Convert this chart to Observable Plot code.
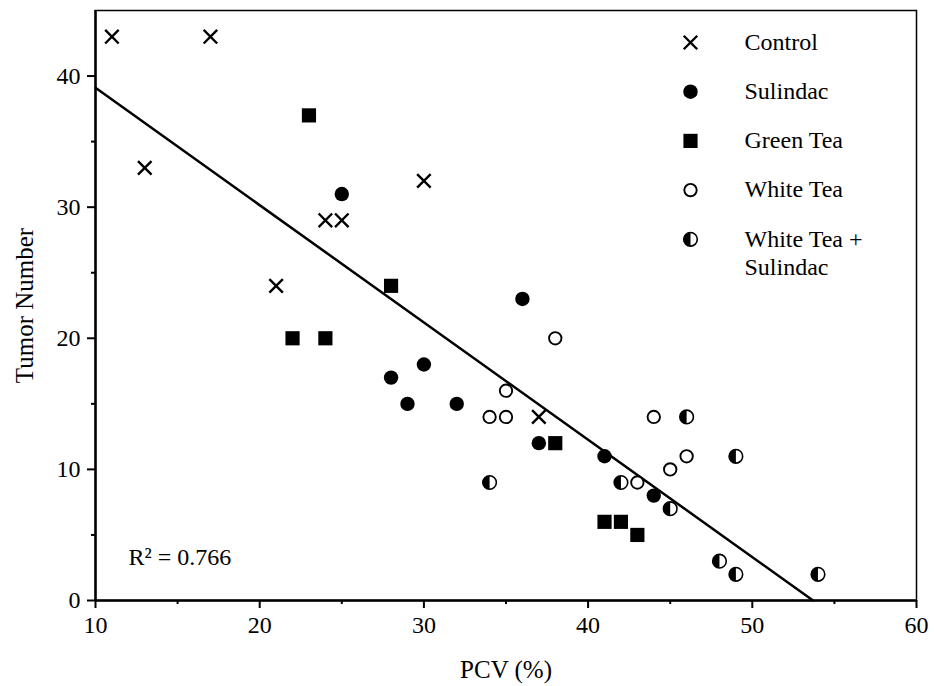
<!DOCTYPE html>
<html><head><meta charset="utf-8">
<script src="https://cdn.jsdelivr.net/npm/d3@7"></script>
<script src="https://cdn.jsdelivr.net/npm/@observablehq/plot@0.6"></script>
<style>html,body{margin:0;padding:0;background:#fff;} svg text{font-family:'Liberation Serif','Times New Roman',serif;}</style>
</head><body><div id="chart"></div>
<script>
// ---- data ----
const controlX  = [11, 17, 13, 24, 25, 30, 21, 37];
const controlY  = [43, 43, 33, 29, 29, 32, 24, 14];
const sulindacX = [25, 36, 28, 30, 29, 32, 37, 41, 44];
const sulindacY = [31, 23, 17, 18, 15, 15, 12, 11, 8];
const greenX    = [23, 28, 22, 24, 38, 41, 42, 43];
const greenY    = [37, 24, 20, 20, 12, 6, 6, 5];
const whiteX    = [38, 35, 34, 35, 44, 46, 45, 43];
const whiteY    = [20, 16, 14, 14, 14, 11, 10, 9];
const wtsX      = [46, 49, 34, 42, 45, 48, 49, 54];
const wtsY      = [14, 11, 9, 9, 7, 3, 2, 2];
const fitX      = [10, 53.7];
const fitY      = [39.1, 0];
const seriesNames = ["Control", "Sulindac", "Green Tea", "White Tea", "White Tea +\nSulindac"];
const xTicks = [10, 20, 30, 40, 50, 60];
const yTicks = [0, 10, 20, 30, 40];
const xMinor = [15, 25, 35, 45, 55];
const yMinor = [5, 15, 25, 35];
const r2Label = "R² = 0.766";
const xLabel = "PCV (%)";
const yLabel = "Tumor Number";

// ---- helpers ----
const SERIF = "'Liberation Serif', 'Times New Roman', serif";
const toPts = (xs, ys) => xs.map((x, i) => ({x, y: ys[i]}));
const halfLeft = {
  draw(ctx, size) {
    const r = Math.sqrt(size / Math.PI);
    ctx.moveTo(0, -r);
    ctx.arc(0, 0, r, -Math.PI / 2, Math.PI / 2, true);
    ctx.closePath();
  }
};
const styles = [
  [{symbol: "times", r: 6.2, stroke: "black", strokeWidth: 2.4, fill: "none"}],
  [{symbol: "circle", r: 7.2, fill: "black", stroke: "none"}],
  [{symbol: "square", r: 8, fill: "black", stroke: "none"}],
  [{symbol: "circle", r: 6.2, fill: "white", stroke: "black", strokeWidth: 1.9}],
  [{symbol: "circle", r: 6.8, fill: "white", stroke: "black", strokeWidth: 1.6},
   {symbol: halfLeft, r: 6.8, fill: "black", stroke: "none"}]
];
const series = [
  toPts(controlX, controlY), toPts(sulindacX, sulindacY), toPts(greenX, greenY),
  toPts(whiteX, whiteY), toPts(wtsX, wtsY)
];

const FONT = 24;
const dataMarks = series.flatMap((pts, i) =>
  styles[i].map(s => Plot.dot(pts, {x: "x", y: "y", ...s})));

const legendMarks = seriesNames.flatMap((name, i) => {
  const dy = 32 + i * 49.2;
  const lines = name.split("\n").length;
  return [
    ...styles[i].map(s => Plot.dot([name], {frameAnchor: "top-left", dx: 595, dy, ...s})),
    Plot.text([name], {frameAnchor: "top-left", dx: 649, dy: dy - 2 + (lines - 1) * FONT * 1.2 / 2,
      text: d => d, textAnchor: "start", lineAnchor: "middle", lineHeight: 1.2,
      fontSize: FONT, fontFamily: SERIF, fill: "black"})
  ];
});

const chart = Plot.plot({
  width: 934, height: 686,
  marginLeft: 95, marginRight: 18, marginTop: 10, marginBottom: 86,
  style: {fontFamily: SERIF, fontSize: FONT + "px", background: "white", color: "black"},
  x: {domain: [10, 60]},
  y: {domain: [0, 45]},
  marks: [
    Plot.frame({stroke: "black", strokeWidth: 1.5}),
    Plot.ruleX([10], {stroke: "black", strokeWidth: 2.5}),
    Plot.ruleY([0], {stroke: "black", strokeWidth: 2.5}),
    Plot.axisX(xTicks, {tickSize: 8, tickPadding: 7, strokeWidth: 2, fontSize: FONT, fontFamily: SERIF, label: null, tickFormat: d => String(d)}),
    Plot.axisX(xMinor, {tickSize: 4, strokeWidth: 2, text: null, label: null}),
    Plot.axisY(yTicks, {tickSize: 8, tickPadding: 7, strokeWidth: 2, fontSize: FONT, fontFamily: SERIF, label: null, tickFormat: d => String(d)}),
    Plot.axisY(yMinor, {tickSize: 4, strokeWidth: 2, text: null, label: null}),
    Plot.line(toPts(fitX, fitY), {x: "x", y: "y", stroke: "black", strokeWidth: 2.5}),
    ...dataMarks,
    ...legendMarks,
    Plot.text([r2Label], {frameAnchor: "bottom-left", dx: 33, dy: -43, textAnchor: "start", lineAnchor: "middle", fontSize: FONT, fontFamily: SERIF, fill: "black"}),
    Plot.text([xLabel], {frameAnchor: "bottom", dy: 69, textAnchor: "middle", lineAnchor: "middle", fontSize: 25, fontFamily: SERIF, fill: "black"}),
    Plot.text([yLabel], {frameAnchor: "left", dx: -71, rotate: -90, textAnchor: "middle", lineAnchor: "middle", fontSize: 25, fontFamily: SERIF, fill: "black"})
  ]
});
document.getElementById("chart").append(chart);
</script>
</body></html>
